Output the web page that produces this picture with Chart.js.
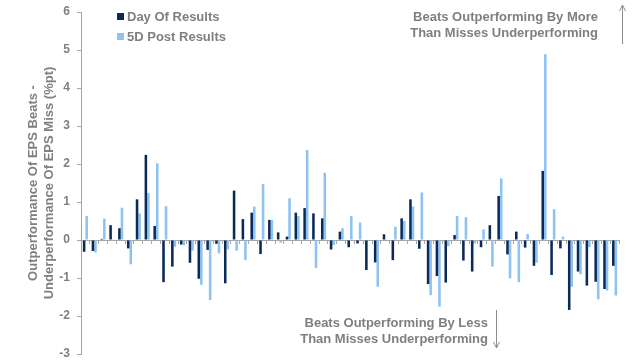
<!DOCTYPE html>
<html>
<head>
<meta charset="utf-8">
<script src="https://cdn.jsdelivr.net/npm/chart.js@4/dist/chart.umd.min.js"></script>
<style>
  html, body { margin: 0; padding: 0; background: #fff; }
  canvas { display: block; }
</style>
</head>
<body>
<canvas id="chart" width="640" height="360"></canvas>
<script>
// Data (%pt)
const dayOfResults = [
  -0.31, -0.29, 0.03, 0.39, 0.31, -0.22, 1.07, 2.24, 0.37, -1.11,
  -0.70, -0.12, -0.60, -1.02, -0.26, -0.10, -1.14, 1.30, 0.55, 0.72,
  -0.37, 0.53, 0.20, 0.09, 0.72, 0.84, 0.70, 0.57, -0.25, 0.22,
  -0.19, -0.09, -0.79, -0.59, 0.15, -0.53, 0.57, 1.07, -0.23, -1.16,
  -0.95, -1.12, 0.13, -0.54, -0.83, -0.19, 0.39, 1.16, -0.38, 0.22,
  -0.20, -0.68, 1.82, -0.92, -0.22, -1.84, -0.83, -1.20, -1.10, -1.29, -0.68
];
const postResults5D = [
  0.63, -0.33, 0.56, 0.02, 0.85, -0.64, 0.70, 1.24, 2.02, 0.89,
  -0.18, -0.14, -0.28, -1.18, -1.58, -0.35, -0.25, -0.28, -0.53, 0.88,
  1.47, 0.53, -0.07, 1.10, 0.63, 2.37, -0.74, 1.77, -0.13, 0.31,
  0.63, 0.46, -0.02, -1.23, 0.02, 0.35, 0.50, 0.88, 1.25, -1.45,
  -1.75, -0.16, 0.63, 0.60, -0.09, 0.28, -0.70, 1.62, -1.01, -1.11,
  0.16, -0.60, 4.89, 0.81, 0.09, -1.23, -0.90, -0.19, -1.56, -1.33, -1.46
];
const periods = dayOfResults.map((_, i) => String(i + 1));
const seriesNames = ["Day Of Results", "5D Post Results"];
const yTitle = ["Outperformance Of EPS Beats -", "Underperformance Of EPS Miss (%pt)"];
const noteUp = ["Beats Outperforming By More", "Than Misses Underperforming"];
const noteDown = ["Beats Outperforming By Less", "Than Misses Underperforming"];

const GREY = "#7f7f7f";
const AXIS = "#a6a6a6";
const DARK = "#0b2a57";
const LIGHT = "#8dc3f2";
const FONT = "'Liberation Sans', Arial, sans-serif";

// legend + side notes drawn on top
const decorations = {
  id: "decorations",
  afterDraw(chart) {
    const ctx = chart.ctx;
    ctx.save();
    ctx.font = "bold 13px " + FONT;
    ctx.textBaseline = "middle";

    // legend
    chart.data.datasets.forEach((ds, i) => {
      const y = 17 + i * 20;
      ctx.fillStyle = ds.backgroundColor;
      ctx.fillRect(117, y - 4, 7, 7);
      ctx.fillStyle = GREY;
      ctx.textAlign = "left";
      ctx.fillText(ds.label, 127, y);
    });

    // notes
    ctx.textAlign = "right";
    noteUp.forEach((t, i) => ctx.fillText(t, 598, 17 + i * 16));
    noteDown.forEach((t, i) => ctx.fillText(t, 488, 323 + i * 16));

    // arrows
    ctx.strokeStyle = "#8c8c8c";
    ctx.lineWidth = 1;
    const arrow = (x, y1, y2) => {
      const d = y2 < y1 ? 1 : -1;
      ctx.beginPath();
      ctx.moveTo(x + 0.5, y1);
      ctx.lineTo(x + 0.5, y2);
      ctx.moveTo(x + 0.5 - 3, y2 + d * 6);
      ctx.lineTo(x + 0.5, y2);
      ctx.lineTo(x + 0.5 + 3, y2 + d * 6);
      ctx.stroke();
    };
    arrow(622, 44, 5);
    arrow(496, 310, 348);
    ctx.restore();
  }
};

new Chart(document.getElementById("chart"), {
  type: "bar",
  data: {
    labels: periods,
    datasets: [
      { label: seriesNames[0], data: dayOfResults, backgroundColor: DARK },
      { label: seriesNames[1], data: postResults5D, backgroundColor: LIGHT }
    ]
  },
  options: {
    responsive: false,
    animation: false,
    devicePixelRatio: 1,
    layout: { padding: { left: 0, right: 21, top: 12, bottom: 6 } },
    datasets: { bar: { categoryPercentage: 0.58, barPercentage: 1.0 } },
    plugins: {
      legend: { display: false },
      tooltip: { enabled: false }
    },
    scales: {
      x: {
        position: { y: 0 },
        grid: { drawOnChartArea: false, drawTicks: true, tickLength: 3, color: AXIS },
        border: { display: true, color: AXIS },
        ticks: { display: false }
      },
      y: {
        min: -3,
        max: 6,
        afterFit: (scale) => {
          scale.width = 81;
          scale.paddingTop = 0;
          scale.paddingBottom = 0;
        },
        grid: { drawOnChartArea: false, drawTicks: true, tickLength: 4, color: AXIS },
        border: { display: true, color: AXIS },
        ticks: {
          stepSize: 1,
          padding: 7,
          color: GREY,
          font: { family: FONT, size: 12, weight: "bold" }
        },
        title: {
          display: true,
          text: yTitle,
          color: GREY,
          font: { family: FONT, size: 13, weight: "bold", lineHeight: 1.23 },
          padding: { top: 25, bottom: 0 }
        }
      }
    }
  },
  plugins: [decorations]
});
</script>
</body>
</html>
